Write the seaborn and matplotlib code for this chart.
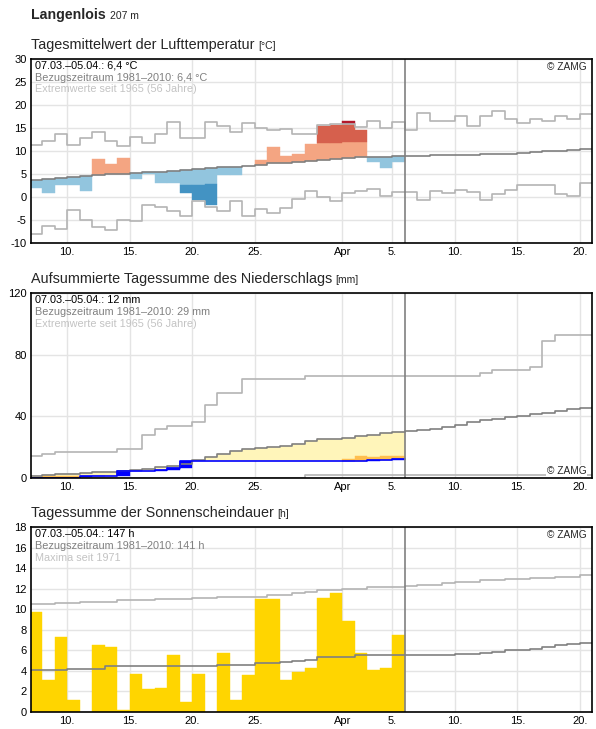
import numpy as np
import matplotlib
matplotlib.use('Agg')
import matplotlib.pyplot as plt
import seaborn as sns

# days counted from 07.03. (0) to 20.04. (44); observed period is the first 30 days
tick_pos = [3, 8, 13, 18, 25, 29, 34, 39, 44]
tick_labels = ['10.', '15.', '20.', '25.', 'Apr', '5.', '10.', '15.', '20.']

# --- Lufttemperatur ---
temp = np.array([1.9, 0.9, 2.5, 2.5, 1.4, 8.3, 7.2, 8.5, 4.0, 4.9, 3.15, 3.15, 0.85, -0.65, -1.8,
                 4.7, 4.7, 6.7, 8.1, 10.8, 9.0, 9.3, 11.5, 15.5, 15.7, 16.6, 14.55, 7.7, 6.2, 7.5])
temp_mean = np.array([3.8, 4.0, 4.2, 4.3, 4.6, 4.8, 5.0, 5.1, 5.2, 5.35, 5.5, 5.7, 5.8, 6.0, 6.2,
                      6.45, 6.5, 6.7, 6.95, 7.3, 7.45, 7.6, 7.9, 8.0, 8.2, 8.45, 8.6, 8.7, 8.8, 8.95,
                      9.0, 9.0, 9.05, 9.1, 9.15, 9.2, 9.25, 9.35, 9.45, 9.5, 9.8, 9.9, 10.0, 10.25, 10.5])
temp_max = np.array([11.25, 12.25, 13.8, 11.25, 12.75, 14.2, 12.25, 11.0, 13.1, 11.7, 13.8, 16.4, 12.75,
                     12.9, 16.2, 15.4, 14.05, 16.0, 14.9, 14.55, 14.7, 13.8, 13.6, 15.55, 15.8, 15.8, 15.3,
                     16.6, 15.1, 16.4, 14.6, 18.35, 16.6, 16.6, 17.7, 15.5, 17.6, 18.8, 16.85, 16.0, 17.0,
                     16.6, 17.7, 17.05, 18.1])
temp_min = np.array([-8.1, -6.2, -7.0, -2.9, -5.1, -6.5, -7.2, -4.9, -5.3, -1.7, -2.1, -3.15, -4.1, -0.8,
                     -2.1, -3.1, -0.8, -4.2, -2.7, -3.4, -2.5, -0.35, 1.3, -0.1, -0.85, 0.85, 1.3, 1.8,
                     0.2, 1.1, 1.1, -0.65, 1.3, 0.8, 1.5, 1.1, -0.65, 0.55, 1.5, 2.5, 2.65, 2.65, 0.65,
                     0.2, 3.1])
nan = np.nan
# where the darker class starts (only where it is reached)
temp_warm = np.array([nan] * 23 + [11.7, 11.8, 12.0, 12.0] + [nan] * 3)
temp_cold = np.array([nan] * 12 + [2.5, 2.7, 2.9] + [nan] * 15)

# --- Niederschlag (aufsummiert) ---
rain_cum = np.array([0, 0, 0, 0, 1.2, 1.6, 1.6, 4.7, 4.8, 4.8, 5.5, 6.5, 10.8, 10.8, 10.8, 10.8, 10.8,
                     10.8, 10.8, 10.8, 10.8, 10.8, 10.8, 10.8, 10.8, 11.0, 11.0, 11.7, 11.7, 12.3])
rain_mean = np.array([1.2, 1.8, 2.4, 2.6, 3.2, 3.7, 4.0, 4.5, 5.2, 5.8, 7.0, 8.0, 9.2, 11.5, 13.8, 15.4,
                      17.3, 18.8, 19.5, 20.3, 21.0, 21.8, 24.2, 25.3, 25.3, 25.9, 27.5, 27.9, 29.2, 30.0,
                      30.3, 31.1, 31.8, 33.3, 34.2, 36.1, 37.6, 38.5, 39.4, 40.4, 41.3, 42.4, 43.2, 44.5,
                      45.4])
rain_max = np.array([14.5, 15.8, 16.9, 16.9, 16.9, 16.9, 16.9, 18.8, 18.8, 28.1, 32.0, 33.5, 33.5, 36.3,
                     47.4, 55.1, 55.1, 64.2, 64.2, 64.2, 64.2, 64.2] + [65.9] * 14 +
                    [68.1, 70.3, 70.3, 70.3, 72.0, 88.6, 92.8, 92.8, 92.8])
rain_min = np.array([0.0] * 22 + [1.7] * 23)
rain_dry = np.array([nan, 1.0, 1.0, 1.0] + [nan] * 21 + [12.5, 14.5, 13.8, 14.5, 14.5])

# --- Sonnenscheindauer ---
sun = np.array([9.73, 3.16, 7.29, 1.14, 0, 6.51, 6.35, 0.16, 3.68, 2.21, 2.31, 5.53, 0.98, 3.68, 0,
                5.73, 1.14, 3.58, 11.0, 11.0, 3.16, 3.87, 4.26, 11.07, 11.56, 8.85, 5.73, 4.13, 4.26, 7.49])
sun_mean = np.array([4.04, 4.04, 4.04, 4.23, 4.23, 4.23, 4.43, 4.43, 4.43, 4.5, 4.5, 4.5, 4.5, 4.5, 4.5,
                     4.59, 4.59, 4.59, 4.72, 4.72, 4.85, 4.95, 5.1, 5.37, 5.37, 5.37, 5.5, 5.5, 5.5, 5.5,
                     5.5, 5.5, 5.5, 5.5, 5.63, 5.63, 5.76, 5.86, 6.02, 6.02, 6.15, 6.35, 6.48, 6.58, 6.67])
sun_max = np.array([10.48, 10.48, 10.58, 10.58, 10.74, 10.74, 10.74, 10.87, 10.87, 10.87, 11.0, 11.0,
                    11.0, 11.07, 11.07, 11.17, 11.17, 11.17, 11.17, 11.4, 11.4, 11.62, 11.72, 11.88,
                    11.88, 12.0, 12.0, 12.14, 12.14, 12.14, 12.27, 12.4, 12.4, 12.53, 12.66, 12.66,
                    12.8, 12.8, 12.92, 12.92, 13.05, 13.05, 13.18, 13.18, 13.31])

c_mean = '#808080'
c_ext = '#b4b4b4'
c_ext_txt = '#c3c3c3'

sns.set_theme(style='whitegrid')
plt.rcParams['font.family'] = ['Liberation Sans', 'DejaVu Sans']
plt.rcParams.update({'axes.edgecolor': 'black', 'axes.linewidth': 1.2, 'grid.color': '#e4e4e4',
                     'grid.linewidth': 1.0, 'xtick.labelsize': 8, 'ytick.labelsize': 8,
                     'xtick.major.size': 0, 'ytick.major.size': 0, 'xtick.major.pad': 3,
                     'ytick.major.pad': 3, 'xtick.color': 'black', 'ytick.color': 'black',
                     'axes.unicode_minus': False})


def step_line(ax, vals, color):
    x = np.arange(len(vals) + 1)
    y = np.append(vals, vals[-1])
    sns.lineplot(x=x, y=y, drawstyle='steps-post', color=color, linewidth=1.2, ax=ax, estimator=None)


def bars(ax, lo, hi, color):
    d = np.arange(len(lo))
    h = hi - lo
    keep = ~np.isnan(h) & (h > 0)
    ax.bar(d[keep], h[keep], bottom=lo[keep], width=1, align='edge', color=color,
           edgecolor=color, linewidth=0.3)


def panel(ax, title, unit, yticks, lines, ylim, zamg_top=True):
    ax.set_xlim(0.12, 44.97)
    ax.set_ylim(*ylim)
    ax.set_xticks(tick_pos)
    ax.set_xticklabels(tick_labels)
    ax.set_yticks(yticks)
    ax.set_axisbelow(True)
    ax.axvline(30, color=c_mean, lw=1.2)
    for s in ax.spines.values():
        s.set_color('black')
        s.set_linewidth(1.2)
    t = ax.text(0, 1.04, title, transform=ax.transAxes, fontsize=10.4, va='bottom', ha='left')
    ax.annotate(unit, xy=(1, 0), xycoords=t, xytext=(2.5, 0.6), textcoords='offset points',
                fontsize=7.5, va='bottom', ha='left')
    for i, (txt, col) in enumerate(zip(lines, ['black', c_mean, c_ext_txt])):
        ax.text(0.007, 0.99 - i * 0.064, txt, transform=ax.transAxes, fontsize=7.8,
                va='top', ha='left', color=col)
    if zamg_top:
        ax.text(0.99, 0.985, '© ZAMG', transform=ax.transAxes, fontsize=7.3, va='top', ha='right')
    else:
        ax.text(0.99, 0.012, '© ZAMG', transform=ax.transAxes, fontsize=7.3, va='bottom', ha='right',
                bbox=dict(facecolor='white', edgecolor='none', pad=0.5))


fig = plt.figure(figsize=(5.96, 7.29), dpi=100)
ax1 = fig.add_axes([31 / 596, 1 - 243 / 729, 561 / 596, 184 / 729])
ax2 = fig.add_axes([31 / 596, 1 - 478 / 729, 561 / 596, 185 / 729])
ax3 = fig.add_axes([31 / 596, 1 - 712 / 729, 561 / 596, 185 / 729])

fig.text(31 / 596, 1 - 19 / 729, 'Langenlois', fontsize=10.2, fontweight='bold', va='baseline')
fig.text(110 / 596, 1 - 19 / 729, '207 m', fontsize=7.5, va='baseline')

# temperature
tm = temp_mean[:30]
warm = temp > tm
lo = np.where(warm, tm, np.fmax(temp, temp_cold))
hi = np.where(warm, np.fmin(temp, temp_warm), tm)
light = np.where(warm, '#f4a582', '#92c5de')
keep = (hi - lo) > 0
ax1.bar(np.arange(30)[keep], (hi - lo)[keep], bottom=lo[keep], width=1, align='edge',
        color=light[keep], edgecolor=light[keep], linewidth=0.3)
bars(ax1, temp_warm, np.fmin(temp, temp_max[:30]), '#d6604d')
bars(ax1, np.where(temp > temp_max[:30], temp_max[:30], nan), np.where(temp > temp_max[:30], temp, nan),
     '#b2182b')
bars(ax1, np.where(np.isnan(temp_cold), nan, temp), temp_cold, '#4393c3')
step_line(ax1, temp_max, c_ext)
step_line(ax1, temp_min, c_ext)
step_line(ax1, temp_mean, c_mean)
panel(ax1, 'Tagesmittelwert der Lufttemperatur', '[°C]', np.arange(-10, 31, 5),
      ['07.03.–05.04.: 6,4 °C', 'Bezugszeitraum 1981–2010: 6,4 °C', 'Extremwerte seit 1965 (56 Jahre)'],
      (-10, 30))

# precipitation
rm = rain_mean[:30]
prev = np.concatenate([[0], rain_cum[:-1]])
bars(ax2, rain_cum, np.fmax(rm, rain_cum), '#fff5ba')
bars(ax2, rain_cum, np.where(rain_dry > rain_cum, rain_dry, nan), '#ffbe4f')
bars(ax2, prev, rain_cum, '#0000ff')
step_line(ax2, rain_max, c_ext)
step_line(ax2, rain_min, c_ext)
step_line(ax2, rain_mean, c_mean)
step_line(ax2, rain_cum, '#0000ff')
panel(ax2, 'Aufsummierte Tagessumme des Niederschlags', '[mm]', [0, 40, 80, 120],
      ['07.03.–05.04.: 12 mm', 'Bezugszeitraum 1981–2010: 29 mm', 'Extremwerte seit 1965 (56 Jahre)'],
      (0, 120), zamg_top=False)

# sunshine
bars(ax3, np.zeros(30), sun, '#ffd500')
step_line(ax3, sun_max, c_ext)
step_line(ax3, sun_mean, c_mean)
panel(ax3, 'Tagessumme der Sonnenscheindauer', '[h]', np.arange(0, 19, 2),
      ['07.03.–05.04.: 147 h', 'Bezugszeitraum 1981–2010: 141 h', 'Maxima seit 1971'], (0, 18))

for ax in (ax1, ax2, ax3):
    ax.set_xlabel('')
    ax.set_ylabel('')

fig.savefig('out.png', dpi=100)
